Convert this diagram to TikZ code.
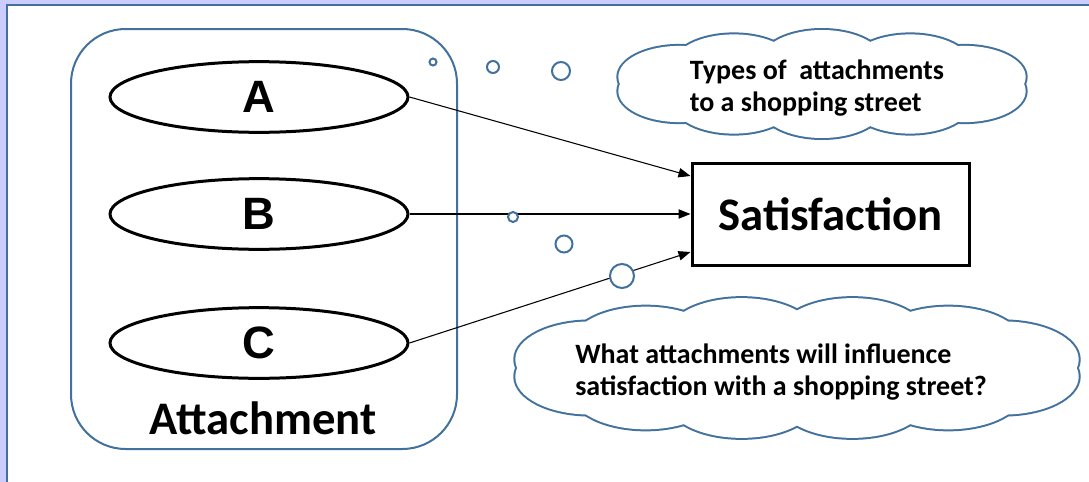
\documentclass[tikz,border=0pt]{standalone}
\usepackage{fontspec}
\setmainfont{Carlito}
\newfontfamily\arialf{Liberation Sans}
\usetikzlibrary{shapes.geometric,arrows.meta}
\definecolor{steel}{RGB}{65,113,156}
\definecolor{lav}{RGB}{204,204,255}
\tikzset{
  attell/.style={draw=black, line width=2.25pt, ellipse, fill=white, minimum width=223.5pt, minimum height=53pt, inner sep=0pt, font=\arialf\bfseries\fontsize{34}{40}\selectfont},
  satbox/.style={draw=black, line width=2.25pt, rectangle, fill=white, minimum width=207.75pt, minimum height=76.5pt, inner sep=0pt, font=\bfseries\fontsize{35}{42}\selectfont},
  grpbox/.style={draw=steel, line width=1.5pt, rectangle, rounded corners=41pt, minimum width=289.5pt, minimum height=315pt, inner sep=0pt},
  bigtext/.style={font=\bfseries\fontsize{35}{42}\selectfont, inner sep=0pt},
  cloudtext/.style={font=\bfseries\fontsize{21}{24.5}\selectfont, align=left, inner sep=0pt},
  bubble/.style={draw=steel, line width=1.5pt, fill=white, circle, inner sep=0pt},
  conn/.style={draw=black, line width=0.8pt, -{Triangle[length=9pt,width=7pt]}},
}
% cloud: #1 cx, #2 cy, #3 inner a, #4 inner b, #5 puff rx (px), #6 puff ry (px), #7 number of puffs
\newcommand{\cloudpuffs}[7]{%
  \pgfmathsetmacro{\cstep}{360/#7}%
  \foreach \k in {1,...,#7}{%
    \pgfmathsetmacro{\ang}{(\k-0.5)*\cstep}%
    \draw[steel, line width=3pt] ({#1+#3*cos(\ang)},{#2+#4*sin(\ang)}) ellipse [x radius=#5*0.75pt, y radius=#6*0.75pt];
  }%
  \foreach \k in {1,...,#7}{%
    \pgfmathsetmacro{\ang}{(\k-0.5)*\cstep}%
    \fill[white] ({#1+#3*cos(\ang)},{#2+#4*sin(\ang)}) ellipse [x radius=#5*0.75pt, y radius=#6*0.75pt];
  }%
  \fill[white] (#1,#2) ellipse [x radius=#3*0.75pt, y radius=#4*0.75pt];
}
\begin{document}
\begin{tikzpicture}[x=0.75pt,y=-0.75pt]
\useasboundingbox (0,0) rectangle (1089,482);
% page background and frame
\fill[lav] (0,0) rectangle (1089,482);
\fill[white] (8,6) rectangle (1089,482);
\node[anchor=base west, inner sep=0pt, font=\bfseries\fontsize{30}{36}\selectfont] (title) at (451,-6) {Shopping};
\fill[lav] (0,0) rectangle (1089,3.5);
\draw[steel, line width=1.5pt] (7,482) -- (7,5) -- (1089,5);
% group
\node[grpbox] (grp) at (264,239) {};
\node[bigtext] (grplabel) at (263,418) {Attachment};
% attachments
\node[attell] (A) at (259,97) {A};
\node[attell] (B) at (259,214) {B};
\node[attell] (C) at (259,343) {C};
% satisfaction
\node[satbox] (sat) at (830.5,214) {Satisfaction};
% connectors
\draw[conn] (A.east) -- ([yshift=28.5pt]sat.west);
\draw[conn] (B.east) -- (sat.west);
\draw[conn] (C.east) -- ([yshift=-28.5pt]sat.west);
% thought bubbles
\node[bubble, minimum size=5.25pt] (b1) at (433,62) {};
\node[bubble, minimum size=9pt] (b2) at (493,67) {};
\node[bubble, minimum size=13.5pt] (b3) at (561,71) {};
\node[bubble, minimum size=7.5pt] (b4) at (513,217) {};
\node[bubble, minimum size=12.75pt] (b5) at (564,244) {};
\node[bubble, minimum size=18pt] (b6) at (622,276) {};
% clouds
\cloudpuffs{822}{84}{150}{23}{61}{31}{10}
\node[cloudtext] (cl1t) at (817,88) {Types of~ attachments\\to a shopping street};
\cloudpuffs{797}{368}{214}{33}{75}{38}{12}
\node[cloudtext] (cl2t) at (781,372) {What attachments will influence\\satisfaction with a shopping street?};
\end{tikzpicture}
\end{document}
